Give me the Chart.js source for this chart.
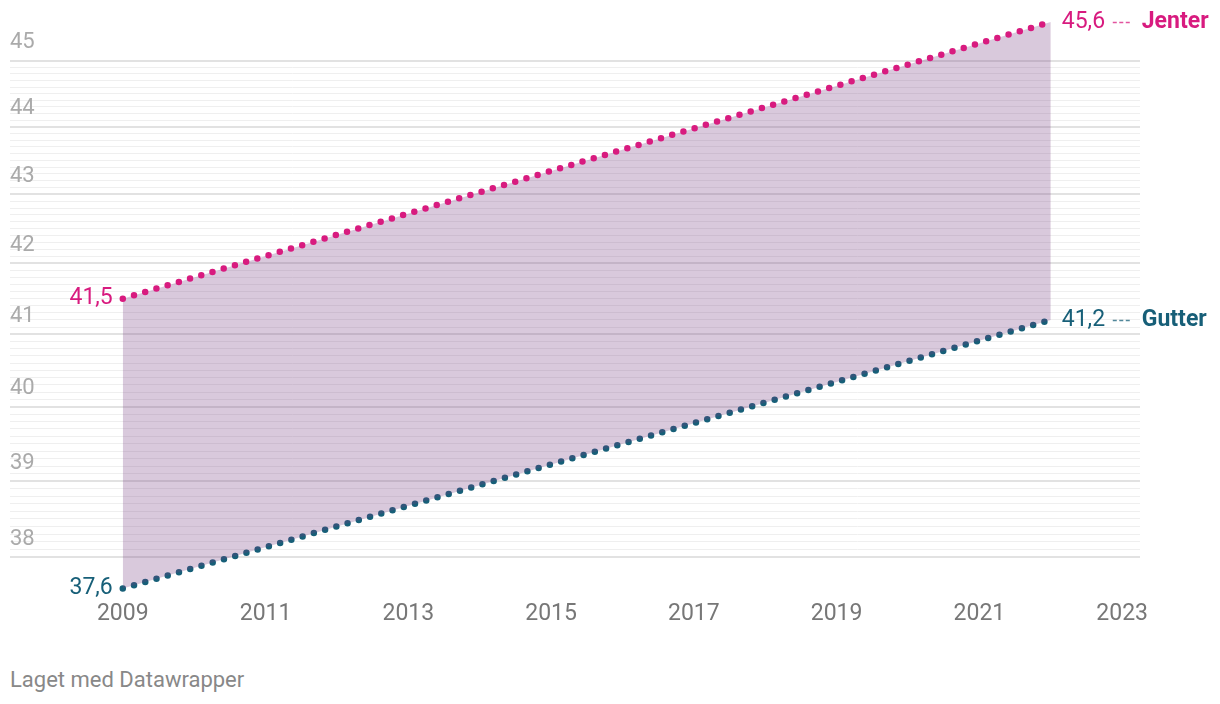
<!DOCTYPE html>
<html lang="no">
<head>
    <meta charset="UTF-8">
    <title>Jenter og gutter</title>
    <script src="https://cdn.jsdelivr.net/npm/chart.js@4.4.1/dist/chart.umd.min.js"></script>
    <style>
        html, body { margin: 0; padding: 0; background: #fff; }
        body { width: 1220px; height: 704px; position: relative; font-family: Roboto, sans-serif; }
        #wrap { position: absolute; left: 0; top: 0; width: 1220px; height: 640px; }
        #footer { position: absolute; left: 10px; top: 667px; font-size: 22px; color: #888; }
    </style>
</head>
<body>
    <div id="wrap"><canvas id="chart"></canvas></div>
    <div id="footer">Laget med Datawrapper</div>

    <script>
        const years = [2009, 2022];
        const jenter = [41.5, 45.6];
        const gutter = [37.6, 41.2];
        const xTickLabels = [2009, 2011, 2013, 2015, 2017, 2019, 2021, 2023];
        const yTickLabels = [38, 39, 40, 41, 42, 43, 44, 45];
        const seriesNames = ['Jenter', 'Gutter'];

        const pink = '#d81b7f';
        const teal = '#175f78';

        // value labels at both ends of each line
        const endLabels = {
            id: 'endLabels',
            afterDatasetsDraw(chart) {
                const { ctx, scales: { x, y } } = chart;
                const series = [
                    { data: jenter, name: seriesNames[0], color: pink, dash: 'rgba(216,27,127,0.75)' },
                    { data: gutter, name: seriesNames[1], color: teal, dash: 'rgba(23,95,120,0.75)' }
                ];
                ctx.save();
                ctx.textBaseline = 'middle';
                series.forEach(s => {
                    const fmt = v => v.toFixed(1).replace('.', ',');
                    const y0 = y.getPixelForValue(s.data[0]);
                    const y1 = y.getPixelForValue(s.data[1]);
                    ctx.fillStyle = s.color;
                    ctx.font = '23px Roboto';
                    ctx.textAlign = 'right';
                    ctx.fillText(fmt(s.data[0]), x.getPixelForValue(years[0]) - 10, y0);
                    ctx.textAlign = 'left';
                    const xr = x.getPixelForValue(years[1]) + 11;
                    ctx.fillText(fmt(s.data[1]), xr, y1);
                    ctx.strokeStyle = s.dash;
                    ctx.lineWidth = 1.5;
                    ctx.setLineDash([4, 2.5]);
                    ctx.beginPath();
                    ctx.moveTo(xr + 51, y1 + 0.5);
                    ctx.lineTo(xr + 68, y1 + 0.5);
                    ctx.stroke();
                    ctx.setLineDash([]);
                    ctx.font = 'bold 23px Roboto';
                    ctx.fillText(s.name, xr + 80, y1);
                });
                ctx.restore();
            }
        };

        new Chart(document.getElementById('chart'), {
            type: 'line',
            data: {
                datasets: [
                    {
                        label: seriesNames[0],
                        data: years.map((yr, i) => ({ x: yr, y: jenter[i] })),
                        borderColor: pink,
                        borderWidth: 6.5,
                        borderDash: [0, 11.7],
                        borderCapStyle: 'round',
                        pointRadius: 0,
                        fill: '+1',
                        backgroundColor: 'rgba(120,60,130,0.28)',
                        clip: false
                    },
                    {
                        label: seriesNames[1],
                        data: years.map((yr, i) => ({ x: yr, y: gutter[i] })),
                        borderColor: teal,
                        borderWidth: 6.5,
                        borderDash: [0, 11.7],
                        borderCapStyle: 'round',
                        pointRadius: 0,
                        fill: false,
                        clip: false
                    }
                ]
            },
            options: {
                responsive: true,
                maintainAspectRatio: false,
                animation: false,
                layout: { padding: { left: 10, right: 80, top: 22, bottom: 0 } },
                plugins: {
                    legend: { display: false },
                    tooltip: { enabled: false }
                },
                scales: {
                    x: {
                        type: 'linear',
                        min: 2007.42,
                        max: 2023.25,
                        afterBuildTicks: scale => {
                            scale.ticks = xTickLabels.map(v => ({ value: v }));
                        },
                        grid: { display: false, drawTicks: false },
                        border: { display: false },
                        ticks: {
                            autoSkip: false,
                            maxRotation: 0,
                            padding: 12,
                            color: '#777',
                            font: { family: 'Roboto', size: 23 },
                            callback: v => String(v)
                        }
                    },
                    y: {
                        type: 'logarithmic',
                        min: 37.6,
                        max: 45.6,
                        afterBuildTicks: scale => {
                            const t = [];
                            const lo = yTickLabels[0], hi = yTickLabels[yTickLabels.length - 1];
                            for (let i = lo * 10; i <= hi * 10; i++) t.push({ value: i / 10 });
                            scale.ticks = t;
                        },
                        grid: {
                            drawTicks: false,
                            color: c => (Math.abs(c.tick.value - Math.round(c.tick.value)) < 1e-6 ? '#e2e2e2' : '#efefef'),
                            lineWidth: c => (Math.abs(c.tick.value - Math.round(c.tick.value)) < 1e-6 ? 2 : 1)
                        },
                        border: { display: false },
                        ticks: {
                            autoSkip: false,
                            mirror: true,
                            padding: 0,
                            labelOffset: -18,
                            color: '#aaa',
                            font: { family: 'Roboto', size: 22 },
                            callback: v => {
                                const r = Math.round(v);
                                return Math.abs(v - r) < 1e-6 && yTickLabels.includes(r) ? String(r) : '';
                            }
                        }
                    }
                }
            },
            plugins: [endLabels]
        });
    </script>
</body>
</html>
